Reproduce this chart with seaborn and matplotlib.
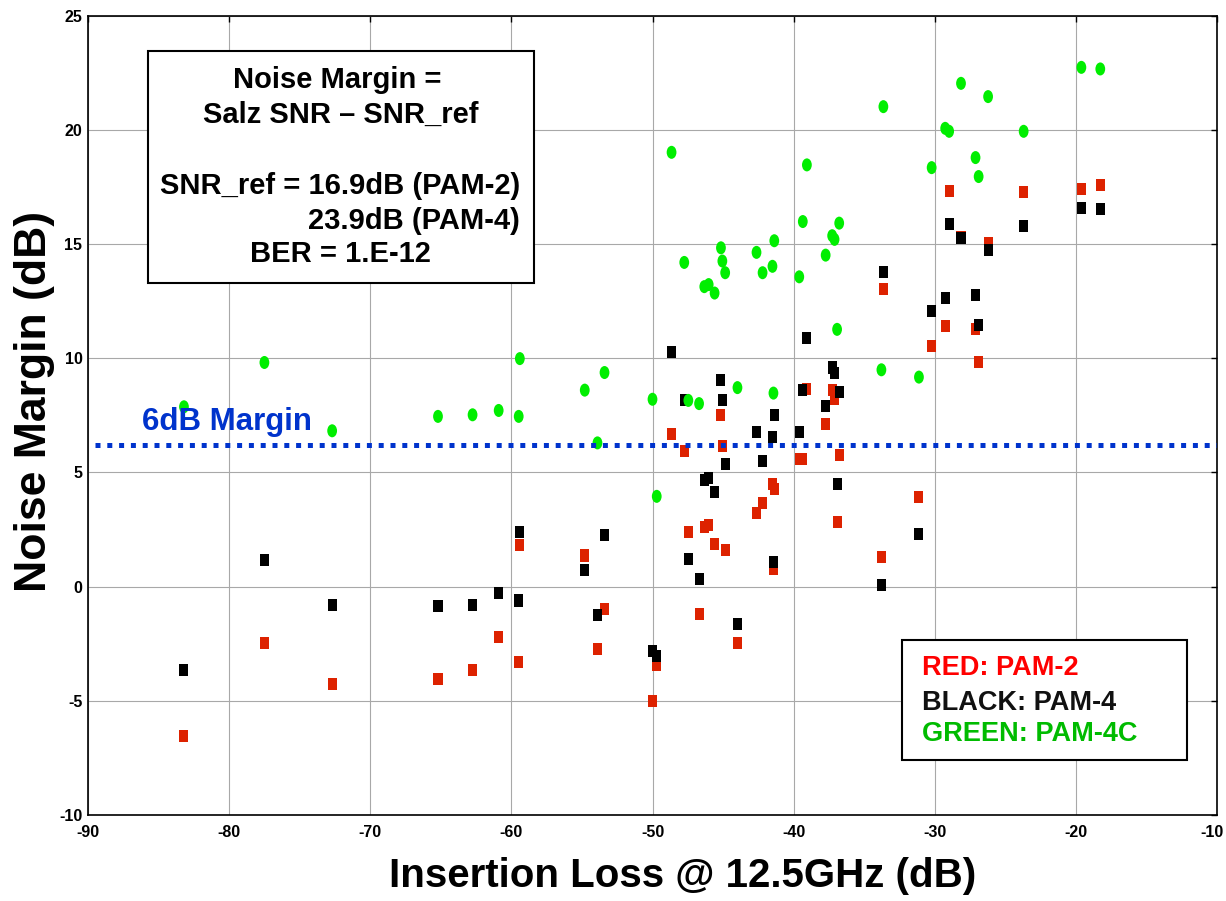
import numpy as np
import pandas as pd
import matplotlib
matplotlib.use("Agg")
import matplotlib.pyplot as plt
import seaborn as sns
from matplotlib.path import Path
from matplotlib.transforms import Affine2D, ScaledTranslation
from matplotlib.patches import Rectangle

# insertion loss of each channel (dB) and the three noise margins (dB)
insertion_loss = [-83.2, -77.5, -72.7, -65.2, -62.75, -60.9, -59.4, -59.48, -54.8, -53.4,
                  -53.9, -50.0, -49.7, -48.65, -47.75, -47.46, -46.7, -46.33, -46.02, -45.6,
                  -45.15, -45.05, -44.85, -43.98, -42.63, -42.2, -41.5, -41.37, -41.43, -39.6,
                  -39.35, -39.06, -37.73, -37.27, -37.1, -36.77, -36.92, -33.78, -33.64, -31.12,
                  -30.22, -29.26, -28.98, -28.14, -27.11, -26.89, -26.22, -23.7, -19.61, -18.27]
pam2 = [-6.54, -2.47, -4.25, -4.05, -3.67, -2.2, 1.81, -3.29, 1.36, -0.99,
        -2.72, -5.0, -3.42, 6.7, 5.93, 2.38, -1.18, 2.62, 2.71, 1.88,
        7.53, 6.15, 1.6, -2.46, 3.21, 3.66, 4.49, 4.28, 0.79, 5.57,
        5.57, 8.67, 7.1, 8.6, 8.23, 5.76, 2.81, 1.3, 13.01, 3.91,
        10.53, 11.41, 17.32, 15.3, 11.29, 9.82, 15.02, 17.26, 17.4, 17.59]
pam4 = [-3.67, 1.17, -0.8, -0.87, -0.8, -0.29, 2.39, -0.61, 0.73, 2.26,
        -1.24, -2.84, -3.03, 10.26, 8.16, 1.22, 0.34, 4.66, 4.74, 4.15,
        9.06, 8.16, 5.36, -1.63, 6.77, 5.49, 6.53, 7.52, 1.09, 6.77,
        8.61, 10.9, 7.91, 9.59, 9.33, 8.5, 4.48, 0.07, 13.77, 2.3,
        12.05, 12.62, 15.87, 15.24, 12.75, 11.47, 14.72, 15.8, 16.57, 16.51]
pam4c = [7.87, 9.81, 6.82, 7.45, 7.52, 7.71, 9.98, 7.45, 8.6, 9.37,
         6.29, 8.2, 3.95, 19.01, 14.19, 8.15, 8.01, 13.13, 13.22, 12.85,
         14.83, 14.25, 13.74, 8.71, 14.63, 13.74, 14.02, 15.14, 8.47, 13.56,
         15.98, 18.46, 14.51, 15.36, 15.2, 15.91, 11.26, 9.49, 21.01, 9.17,
         18.34, 20.06, 19.93, 22.03, 18.78, 17.95, 21.45, 19.93, 22.73, 22.66]
margin_db = 6.2

x_ticks = list(range(-90, -9, 10))
y_ticks = list(range(-10, 26, 5))

df = pd.DataFrame({"il": insertion_loss, "PAM-2": pam2, "PAM-4": pam4, "PAM-4C": pam4c})

sns.set_style("white")
plt.rcParams["font.family"] = ["Liberation Sans", "DejaVu Sans"]
plt.rcParams["font.weight"] = "bold"
plt.rcParams["axes.unicode_minus"] = False
plt.rcParams["text.color"] = "black"
plt.rcParams["axes.labelcolor"] = "black"

fig = plt.figure(figsize=(12.26, 9.01), dpi=100)
ax = fig.add_axes([88 / 1226, 1 - 815 / 901, 1129 / 1226, 799.5 / 901])

rect_marker = Path([(-0.75, -1), (0.75, -1), (0.75, 1), (-0.75, 1), (-0.75, -1)], closed=True)
ell_marker = Path.unit_circle().transformed(Affine2D().scale(0.75, 1.0))

sns.scatterplot(data=df, x="il", y="PAM-2", ax=ax, marker=rect_marker, s=75,
                color="#dd2200", edgecolor="none", linewidth=0, zorder=3)
sns.scatterplot(data=df, x="il", y="PAM-4", ax=ax, marker=rect_marker, s=75,
                color="black", edgecolor="none", linewidth=0, zorder=3.1)
sns.scatterplot(data=df, x="il", y="PAM-4C", ax=ax, marker=ell_marker, s=88,
                color="#00ee00", edgecolor="none", linewidth=0, zorder=3.2)

# 6dB margin line
ax.plot([-89.5, -10], [margin_db, margin_db], color="#0033cc", lw=3.6,
        linestyle=(0, (1, 1.36)), zorder=4)
ax.text(-86.2, 6.85, "6dB Margin", color="#0033cc", fontsize=22.5, fontweight="bold",
        va="baseline", ha="left", zorder=4)

ax.set_xlim(-90, -10)
ax.set_ylim(-10, 25)
ax.set_xticks(x_ticks)
ax.set_yticks(y_ticks)
ax.grid(True, color="#a8a8a8", lw=0.8)
ax.set_axisbelow(True)
for sp in ax.spines.values():
    sp.set_linewidth(1.2)
    sp.set_color("black")
ax.tick_params(direction="in", top=True, right=True, length=4, width=1,
               labelsize=11.5, colors="black")
ax.tick_params(axis="x", pad=7)
ax.tick_params(axis="y", pad=4)
for lab in ax.get_xticklabels() + ax.get_yticklabels():
    lab.set_fontweight("bold")
# keep the last x tick label inside the figure
last = ax.get_xticklabels()[-1]
last.set_transform(last.get_transform() + ScaledTranslation(-5 / 100, 0, fig.dpi_scale_trans))

ax.set_xlabel("Insertion Loss @ 12.5GHz (dB)", fontsize=29, fontweight="bold", color="black")
ax.set_ylabel("Noise Margin (dB)", fontsize=32, fontweight="bold", color="black")
ax.xaxis.set_label_coords(0.527, -0.052)
ax.yaxis.set_label_coords(-0.029, 0.517)

# formula box
ax.add_patch(Rectangle((-85.73, 13.3), 27.36, 10.13, facecolor="white",
                       edgecolor="black", lw=1.5, zorder=5))
box_kw = dict(fontsize=21, fontweight="bold", va="baseline", zorder=6, color="black")
ax.text(-72.32, 21.81, "Noise Margin =", ha="center", **box_kw)
ax.text(-72.08, 20.28, "Salz SNR \u2013 SNR_ref", ha="center", **box_kw)
ax.text(-59.38, 17.19, "SNR_ref = 16.9dB (PAM-2)", ha="right", **box_kw)
ax.text(-59.38, 15.66, "23.9dB (PAM-4)", ha="right", **box_kw)
ax.text(-72.09, 14.2, "BER = 1.E-12", ha="center", **box_kw)

# colour key box
ax.add_patch(Rectangle((-32.33, -7.58), 20.19, 5.25, facecolor="white",
                       edgecolor="black", lw=1.5, zorder=5))
key_kw = dict(fontsize=19.5, fontweight="bold", va="baseline", ha="left", zorder=6)
ax.text(-30.87, -3.89, "RED: PAM-2", color="#ff0000", **key_kw)
ax.text(-30.87, -5.42, "BLACK: PAM-4", color="#111111", **key_kw)
ax.text(-30.87, -6.77, "GREEN: PAM-4C", color="#00bb00", **key_kw)

fig.savefig("out.png", dpi=100)
